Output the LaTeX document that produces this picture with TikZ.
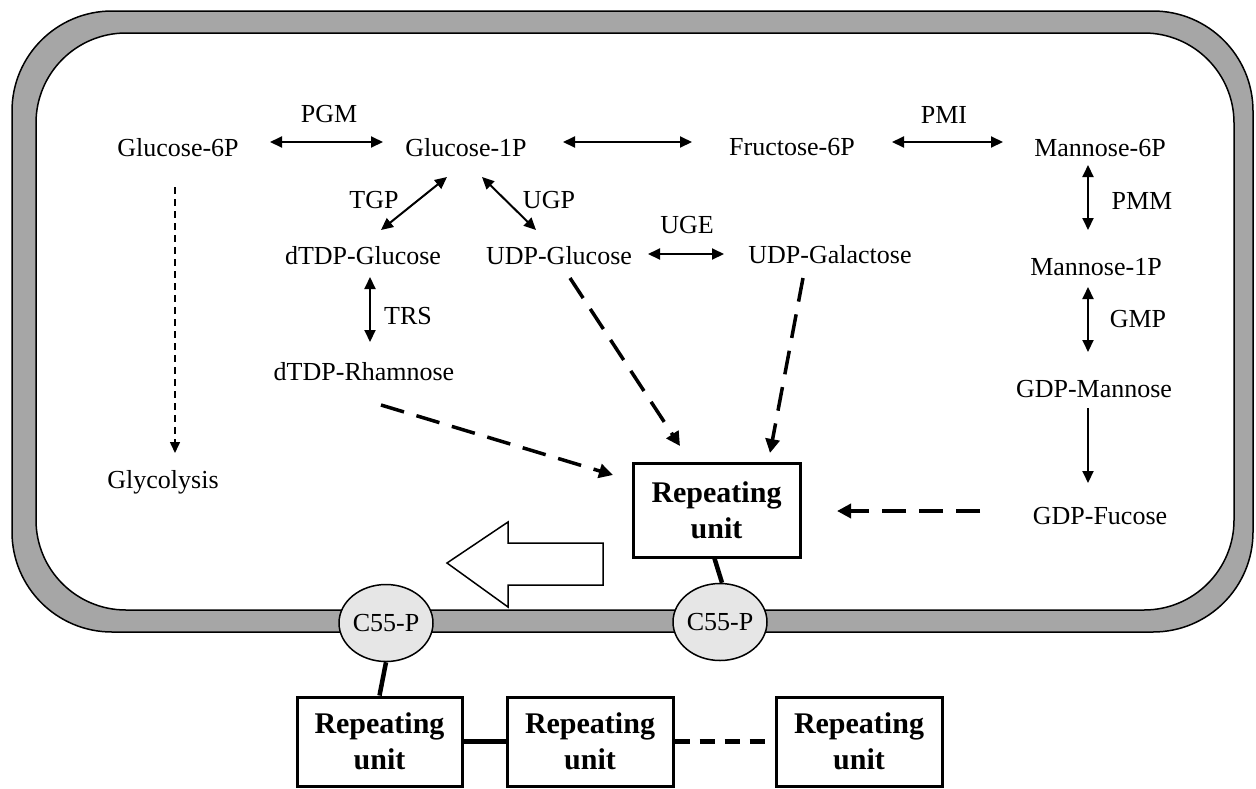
\documentclass[tikz,border=0pt]{standalone}
\usepackage{fontspec}
\setmainfont{Liberation Serif}
\usetikzlibrary{arrows.meta,calc,shapes.geometric}
\definecolor{membrane}{HTML}{A6A6A6}
\definecolor{lipidfill}{HTML}{E6E6E6}
\begin{document}
\begin{tikzpicture}[x=1pt,y=-1pt,
  lbl/.style={inner sep=0pt,anchor=base,font=\fontsize{26}{31}\selectfont},
  dbl/.style={line width=2pt,{Triangle[length=12pt,width=11pt]}-{Triangle[length=12pt,width=11pt]}},
  one/.style={line width=2pt,-{Triangle[length=12pt,width=11pt]}},
  bigdash/.style={line width=3.5pt,dash pattern=on 24pt off 13pt,-{Triangle[length=14pt,width=14pt]}},
  thindash/.style={line width=1.5pt,dash pattern=on 7pt off 5pt,-{Triangle[length=11pt,width=10pt]}},
  rubox/.style={draw,line width=3pt,align=center,inner sep=0pt,font=\fontsize{30}{36}\selectfont\bfseries,minimum width=167pt,minimum height=94pt},
  lipid/.style={ellipse,draw,line width=1.5pt,fill=lipidfill,minimum width=93pt,minimum height=77pt,inner sep=0pt,font=\fontsize{26}{31}\selectfont},
  link/.style={line width=4.5pt},
  linkdash/.style={line width=4.5pt,dash pattern=on 15pt off 10pt},
]
\useasboundingbox (0,0) rectangle (1256,788);

% cell envelope
\draw[line width=1.5pt,fill=membrane,rounded corners=100pt] (12,11) rectangle (1253,632);
\draw[line width=1.5pt,fill=white,rounded corners=90pt] (36,33) rectangle (1234,610);

% metabolites and enzymes
\node[lbl] (g6) at (178,156) {Glucose-6P};
\node[lbl] (g1) at (466,156) {Glucose-1P};
\node[lbl] (f6) at (792,155) {Fructose-6P};
\node[lbl] (m6) at (1100,156) {Mannose-6P};
\node[lbl] (pgm) at (329,122) {PGM};
\node[lbl] (pmi) at (944,123) {PMI};
\node[lbl] (tgp) at (374,208) {TGP};
\node[lbl] (ugp) at (549,208) {UGP};
\node[lbl] (dtg) at (363,264) {dTDP-Glucose};
\node[lbl] (udpg) at (559,264) {UDP-Glucose};
\node[lbl] (uge) at (687,233) {UGE};
\node[lbl] (udpgal) at (830,263) {UDP-Galactose};
\node[lbl] (trs) at (408,324) {TRS};
\node[lbl] (dtr) at (364,380) {dTDP-Rhamnose};
\node[lbl] (gly) at (163,488) {Glycolysis};
\node[lbl] (pmm) at (1142,209) {PMM};
\node[lbl] (m1) at (1096,275) {Mannose-1P};
\node[lbl] (gmp) at (1138,327) {GMP};
\node[lbl] (gdpm) at (1094,397) {GDP-Mannose};
\node[lbl] (gdpf) at (1100,524) {GDP-Fucose};

% repeating units and lipid carriers
\node[rubox] (ru) at (716.5,510) {Repeating\\unit};
\node[lipid] (c1) at (386,623) {C55-P};
\node[lipid] (c2) at (720,622) {C55-P};
\node[rubox,minimum width=165pt,minimum height=89pt] (b1) at (379.5,741.5) {Repeating\\unit};
\node[rubox,minimum width=166pt,minimum height=89pt] (b2) at (590,741.5) {Repeating\\unit};
\node[rubox,minimum width=166pt,minimum height=89pt] (b3) at (859,741.5) {Repeating\\unit};

% export arrow
\draw[line width=1.5pt,fill=white] (603,543) -- (508,543) -- (508,522) -- (447,563) -- (508,607) -- (508,585) -- (603,585) -- cycle;

% reactions
\draw[dbl] ($(g6.base)+(92,-14)$) -- ($(g1.base)+(-83,-14)$);
\draw[dbl] ($(g1.base)+(97,-14)$) -- ($(f6.base)+(-100,-13)$);
\draw[dbl] ($(f6.base)+(100,-13)$) -- ($(m6.base)+(-97,-14)$);
\draw[dbl] ($(g1.base)+(-19,21)$) -- ($(dtg.base)+(18,-34)$);
\draw[dbl] ($(g1.base)+(16,21)$) -- ($(udpg.base)+(-23,-34)$);
\draw[dbl] ($(udpg.base)+(89,-10)$) -- ($(udpgal.base)+(-106,-9)$);
\draw[dbl] ($(dtg.base)+(7,13)$) -- ($(dtr.base)+(6,-38)$);
\draw[thindash] ($(g6.base)+(-3,31)$) -- ($(gly.base)+(12,-35)$);
\draw[dbl] ($(m6.base)+(-12,9)$) -- ($(m1.base)+(-8,-45)$);
\draw[dbl] ($(m1.base)+(-8,12)$) -- ($(gdpm.base)+(-6,-45)$);
\draw[one] ($(gdpm.base)+(-6,11)$) -- ($(gdpf.base)+(-12,-41)$);

% transfers to the repeating unit
\draw[bigdash] ($(dtr.base)+(17,25)$) -- ($(ru.center)+(-103.5,-35)$);
\draw[bigdash] ($(udpg.base)+(11,14)$) -- ($(ru.center)+(-36.5,-64)$);
\draw[bigdash] ($(udpgal.base)+(-27,15)$) -- ($(ru.center)+(53.5,-57)$);
\draw[bigdash] ($(gdpf.base)+(-120,-13)$) -- ($(ru.center)+(120.5,1)$);

% links
\draw[link] ($(ru.south)+(-2,0)$) -- ($(c2.north)+(2,0)$);
\draw[link] (c1.south) -- (b1.north);
\draw[link] (b1.east) -- (b2.west);
\draw[linkdash] (b2.east) -- (b3.west);
\end{tikzpicture}
\end{document}
